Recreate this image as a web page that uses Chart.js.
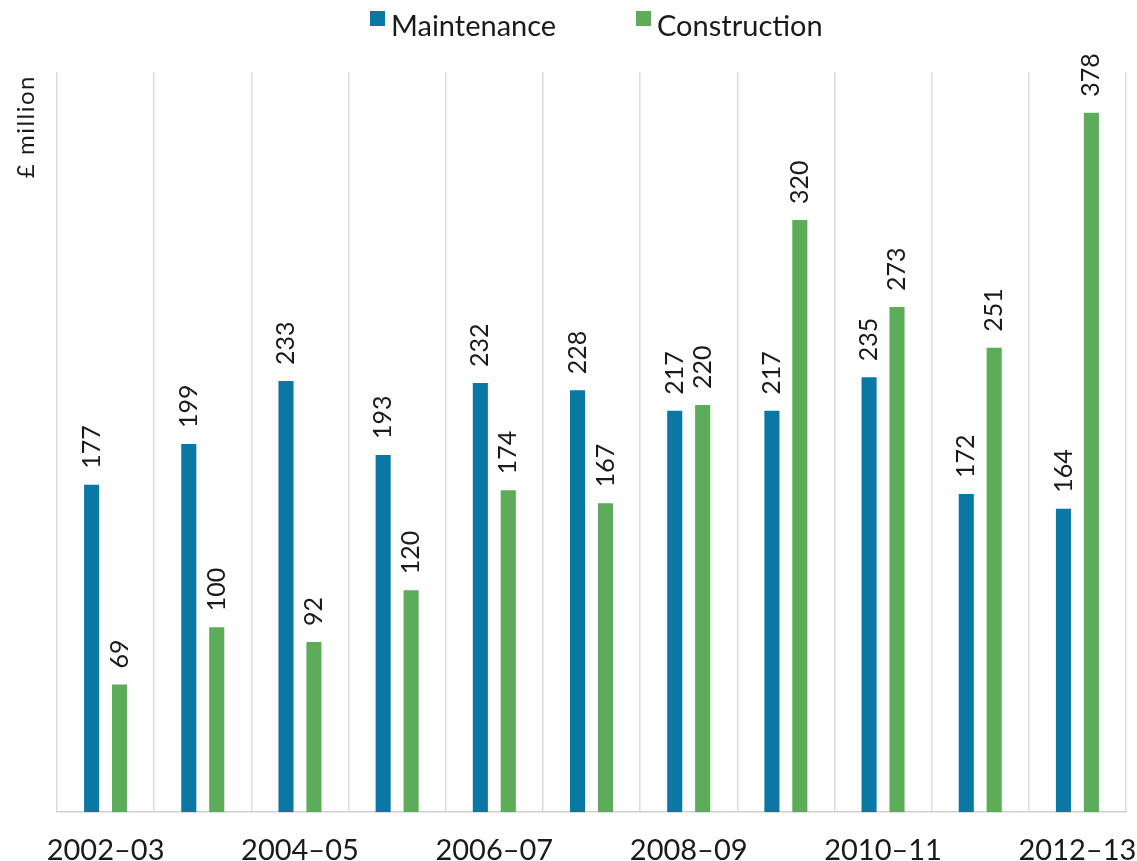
<!DOCTYPE html>
<html>
<head>
<meta charset="utf-8">
<script src="https://cdn.jsdelivr.net/npm/chart.js@4"></script>
<style>
  html, body { margin: 0; padding: 0; background: #fff; overflow: hidden; }
  #wrap { width: 1137px; height: 893px; position: relative; }
</style>
</head>
<body>
<div id="wrap"><canvas id="myChart"></canvas></div>
<script>
const years = ['2002–03', '2003–04', '2004–05', '2005–06', '2006–07', '2007–08',
               '2008–09', '2009–10', '2010–11', '2011–12', '2012–13'];
const maintenance = [177, 199, 233, 193, 232, 228, 217, 217, 235, 172, 164];
const construction = [69, 100, 92, 120, 174, 167, 220, 320, 273, 251, 378];
const yTitle = '£ million';

const FONT = 'Lato, "Open Sans", sans-serif';

// value labels turned on their side, above each bar
const barValues = {
  id: 'barValues',
  afterDatasetsDraw(chart) {
    const ctx = chart.ctx;
    ctx.save();
    ctx.font = '25px ' + FONT;
    ctx.fillStyle = '#1a1a1a';
    ctx.textAlign = 'left';
    ctx.textBaseline = 'middle';
    chart.data.datasets.forEach((ds, di) => {
      chart.getDatasetMeta(di).data.forEach((bar, i) => {
        ctx.save();
        ctx.translate(bar.x, bar.y - 16);
        ctx.rotate(-Math.PI / 2);
        ctx.fillText(String(ds.data[i]), 0, 0);
        ctx.restore();
      });
    });
    ctx.restore();
  }
};

// legend at top + rotated unit title
const extras = {
  id: 'extras',
  afterDraw(chart) {
    const ctx = chart.ctx;
    ctx.save();
    ctx.font = '29px ' + FONT;
    ctx.textBaseline = 'alphabetic';
    const items = [[370, 0], [636, 1]];
    items.forEach(([x, di]) => {
      const ds = chart.data.datasets[di];
      ctx.fillStyle = ds.backgroundColor;
      ctx.fillRect(x, 11, 15, 15);
      ctx.fillStyle = '#1a1a1a';
      ctx.fillText(ds.label, x + 21, 36);
    });

    ctx.font = '24px ' + FONT;
    ctx.letterSpacing = '1.5px';
    ctx.translate(34, 75);
    ctx.rotate(-Math.PI / 2);
    ctx.textAlign = 'right';
    ctx.fillText(yTitle, 0, 0);
    ctx.restore();
  }
};

const ctx = document.getElementById('myChart').getContext('2d');
new Chart(ctx, {
  type: 'bar',
  data: {
    labels: years,
    datasets: [{
      label: 'Maintenance',
      data: maintenance,
      backgroundColor: '#0a77a5',
      categoryPercentage: 0.575,
      barPercentage: 0.54
    }, {
      label: 'Construction',
      data: construction,
      backgroundColor: '#5cac59',
      categoryPercentage: 0.575,
      barPercentage: 0.54
    }]
  },
  options: {
    responsive: true,
    maintainAspectRatio: false,
    animation: false,
    layout: { padding: { left: 57, right: 11, top: 72, bottom: 4 } },
    plugins: {
      legend: { display: false },
      tooltip: { enabled: false }
    },
    scales: {
      x: {
        grid: { offset: true, color: '#dcdcdc', lineWidth: 1.5, drawTicks: false },
        border: { color: '#cfcfcf', width: 1.5 },
        ticks: {
          autoSkip: false,
          maxRotation: 0,
          padding: 21,
          color: '#1a1a1a',
          font: { family: FONT, size: 29 },
          callback: (v, i) => (i % 2 === 0 ? years[i] : '')
        },
        afterFit(scale) {
          // labels may overhang the edges, like the original
          scale.paddingLeft = 0;
          scale.paddingRight = 0;
        }
      },
      y: {
        display: false,
        min: 0,
        max: 400
      }
    }
  },
  plugins: [barValues, extras]
});
</script>
</body>
</html>
